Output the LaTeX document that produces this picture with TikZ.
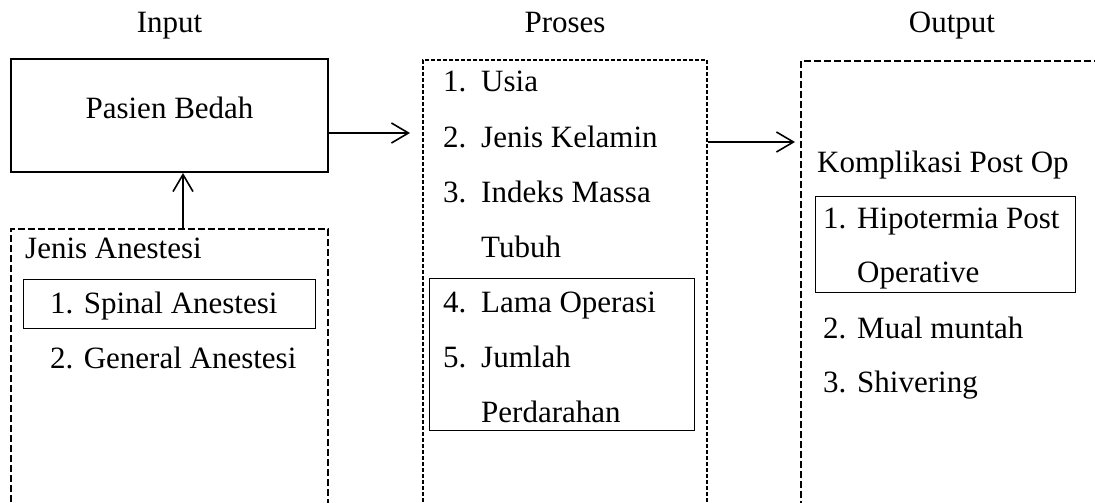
\documentclass[tikz,border=0pt]{standalone}
\usepackage{fontspec}
\setmainfont{Liberation Serif}
\usetikzlibrary{arrows.meta,positioning}

\tikzset{
  txt/.style={anchor=base west, inner sep=0pt, font=\fontsize{31}{31}\selectfont},
  head/.style={anchor=base, inner sep=0pt, font=\fontsize{31}{31}\selectfont},
  thickbox/.style={draw, line width=2pt, inner sep=0pt},
  thinbox/.style={draw, line width=1pt, inner sep=0pt},
  dashbox/.style={draw, line width=2pt, dash pattern=on 7pt off 3pt, inner sep=0pt},
  finedash/.style={draw, line width=1.3pt, dash pattern=on 4pt off 2pt, inner sep=0pt},
  arr/.style={line width=1.6pt, -{Straight Barb[length=17pt,width=20pt,line width=1.6pt]}}
}

\begin{document}
\begin{tikzpicture}[x=1pt,y=-1pt]
        \useasboundingbox (0,0) rectangle (1095,503);
        \clip (0,0) rectangle (1095,503);

        % judul kolom
        \node[head] (input) at (169.5,33) {Input};
        \node[head] (proses) at (565,33) {Proses};
        \node[head] (output) at (952,33) {Output};

        % kotak-kotak
        \node[thickbox, minimum width=317pt, minimum height=113pt] (pasien) at (169.5,115.5) {};
        \node[dashbox, minimum width=317pt, minimum height=300pt] (anestesi) at (169.5,379) {};
        \node[thinbox, minimum width=292pt, minimum height=49pt] (spinal) at (169,303.5) {};
        \node[finedash, minimum width=284pt, minimum height=470pt] (faktor) at (565,295) {};
        \node[thinbox, minimum width=265pt, minimum height=152pt] (lama) at (561.5,354) {};
        \node[dashbox, minimum width=320pt, minimum height=470pt] (komplikasi) at (961,296) {};
        \node[thinbox, minimum width=260pt, minimum height=96pt] (hipo) at (945,244) {};

        % Input
        \node[head] (pasientext) at (169.5,118) {Pasien Bedah};
        \node[txt] (jenis) at (25,258) {Jenis Anestesi};
        \node[txt] (sa) at (50,313) {1. Spinal Anestesi};
        \node[txt] (ga) at (50,368) {2. General Anestesi};

        % Proses
        \node[txt] (n1) at (443,92) {1.};
        \node[txt] (usia) at (481,92) {Usia};
        \node[txt] (n2) at (443,147) {2.};
        \node[txt] (kelamin) at (481,147) {Jenis Kelamin};
        \node[txt] (n3) at (443,202) {3.};
        \node[txt] (imt) at (481,202) {Indeks Massa};
        \node[txt] (tubuh) at (481,257) {Tubuh};
        \node[txt] (n4) at (443,312) {4.};
        \node[txt] (operasi) at (481,312) {Lama Operasi};
        \node[txt] (n5) at (443,367) {5.};
        \node[txt] (jumlah) at (481,367) {Jumlah};
        \node[txt] (darah) at (481,422) {Perdarahan};

        % Output
        \node[txt] (kpo) at (817,172) {Komplikasi Post Op};
        \node[txt] (m1) at (823,228) {1.};
        \node[txt] (hipot) at (857,228) {Hipotermia Post};
        \node[txt] (operative) at (857,282) {Operative};
        \node[txt] (m2) at (823,338) {2.};
        \node[txt] (mual) at (857,338) {Mual muntah};
        \node[txt] (m3) at (823,392) {3.};
        \node[txt] (shiv) at (857,392) {Shivering};

        % panah
        \coordinate (tip1) at (410,133);
        \coordinate (tip2) at (795,142);
        \coordinate (up) at (183,229);
        \draw[arr] (pasien.east |- tip1) -- (tip1);
        \draw[arr] (faktor.east |- tip2) -- (tip2);
        \draw[arr] (up) -- (up |- pasien.south);
    \end{tikzpicture}
\end{document}
